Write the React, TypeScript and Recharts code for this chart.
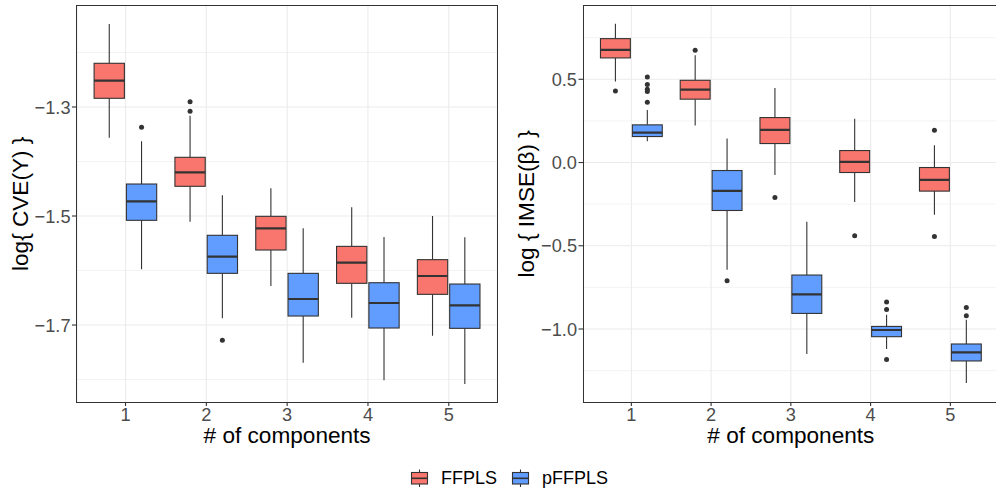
import React from "react";
import { ComposedChart, Bar, XAxis, YAxis, CartesianGrid } from "recharts";

const FONT = '"Liberation Sans", Arial, Helvetica, sans-serif';
const INK = "#333333";
const FF_COLOR = "#F8766D";
const PF_COLOR = "#619CFF";

const components = ["1", "2", "3", "4", "5"];

// each row: [lower whisker, Q1, median, Q3, upper whisker]
const cveFFPLS = [
  [-1.3563, -1.284, -1.2517, -1.2198, -1.1477],
  [-1.5104, -1.4455, -1.4198, -1.3923, -1.316],
  [-1.6284, -1.5624, -1.5226, -1.5006, -1.4492],
  [-1.6866, -1.6235, -1.5857, -1.5557, -1.484],
  [-1.7196, -1.6437, -1.6101, -1.5801, -1.5],
];
const cvePFFPLS = [
  [-1.5978, -1.5079, -1.473, -1.4413, -1.363],
  [-1.6877, -1.6052, -1.5747, -1.5354, -1.462],
  [-1.7691, -1.6835, -1.6523, -1.6052, -1.5226],
  [-1.8015, -1.7055, -1.6596, -1.6224, -1.5385],
  [-1.8083, -1.7061, -1.6639, -1.6248, -1.5391],
];
const cveFFPLSOut = [[], [-1.2903, -1.3079], [], [], []];
const cvePFFPLSOut = [[-1.3373], [-1.728], [], [], []];

const imseFFPLS = [
  [0.4862, 0.6284, 0.6765, 0.7443, 0.833],
  [0.2221, 0.3806, 0.4382, 0.494, 0.6447],
  [-0.0756, 0.114, 0.1963, 0.2701, 0.4478],
  [-0.2377, -0.06, 0.0042, 0.072, 0.2623],
  [-0.3139, -0.1717, -0.1038, -0.03, 0.1044],
];
const imsePFFPLS = [
  [0.1285, 0.1561, 0.1801, 0.2263, 0.3163],
  [-0.6441, -0.2881, -0.1699, -0.048, 0.1441],
  [-1.15, -0.9064, -0.7923, -0.6759, -0.356],
  [-1.12, -1.0462, -1.006, -0.9844, -0.915],
  [-1.3247, -1.192, -1.1405, -1.09, -0.944],
];
const imseFFPLSOut = [[0.4304], [0.6747], [-0.2101], [-0.44], [0.1945, -0.4442]];
const imsePFFPLSOut = [
  [0.5144, 0.4682, 0.4406, 0.4262, 0.3625],
  [-0.71],
  [],
  [-0.838, -0.8824, -1.1825],
  [-0.8703, -0.9202],
];

const cveTicks = [-1.7, -1.5, -1.3];
const cveMinor = [-1.8, -1.6, -1.4, -1.2];
const cveDomain = [-1.8418, -1.1134];

const imseTicks = [-1.0, -0.5, 0, 0.5];
const imseMinor = [-1.25, -0.75, -0.25, 0.25, 0.75];
const imseDomain = [-1.4403, 0.9445];

const legendItems = ["FFPLS", "pFFPLS"];

const fmt = (v: number) => (v < -1e-9 ? "\u2212" : "") + Math.abs(v).toFixed(1);

const buildRows = (ff: number[][], pf: number[][], ffOut: number[][], pfOut: number[][]) =>
  components.map((k, i) => ({
    k,
    ff: ff[i],
    pf: pf[i],
    ffOut: ffOut[i],
    pfOut: pfOut[i],
    ffRange: [ff[i][0], ff[i][4]],
    pfRange: [pf[i][0], pf[i][4]],
  }));

// box drawn inside the bar the library places for the whisker range
const makeBox = (key: "ff" | "pf", fill: string) => (props: any) => {
  const { x, y, width, height, payload } = props;
  const s: number[] = payload[key];
  const outs: number[] = payload[key + "Out"];
  const lo = s[0];
  const hi = s[4];
  const py = (v: number) => y + ((hi - v) * height) / (hi - lo);
  const cx = x + width / 2;
  return (
    <g>
      <line x1={cx} x2={cx} y1={py(hi)} y2={py(s[3])} stroke={INK} strokeWidth={1.1} />
      <line x1={cx} x2={cx} y1={py(s[1])} y2={py(lo)} stroke={INK} strokeWidth={1.1} />
      <rect x={x} y={py(s[3])} width={width} height={py(s[1]) - py(s[3])} fill={fill} stroke={INK} strokeWidth={1.1} />
      <line x1={x} x2={x + width} y1={py(s[2])} y2={py(s[2])} stroke={INK} strokeWidth={2.2} />
      {outs.map((o, i) => (
        <circle key={i} cx={cx} cy={py(o)} r={2.5} fill={INK} />
      ))}
    </g>
  );
};

const ffShape = makeBox("ff", FF_COLOR);
const pfShape = makeBox("pf", PF_COLOR);

const PLOT_TOP = 5.3;
const PLOT_BOTTOM = 402.3;
const CHART_H = 460;

interface PanelProps {
  rows: any[];
  ticks: number[];
  minor: number[];
  domain: number[];
  yTitle: string;
  left: number;
  yAxisW: number;
  rightMargin: number;
  pad: number;
  barSize: number;
}

const Panel: React.FC<PanelProps> = ({ rows, ticks, minor, domain, yTitle, left, yAxisW, rightMargin, pad, barSize }) => {
  const plotW = 500 - yAxisW - rightMargin;
  const xMid = yAxisW + plotW / 2;
  return (
    <div style={{ position: "absolute", left, top: 0 }}>
      <ComposedChart
        width={500}
        height={CHART_H}
        data={rows}
        barGap={2}
        margin={{ top: PLOT_TOP, right: rightMargin, bottom: 0, left: 0 }}
      >
        <CartesianGrid stroke="#EBEBEB" strokeWidth={0.6} vertical={false} horizontalValues={minor} />
        <CartesianGrid stroke="#EBEBEB" strokeWidth={1.1} horizontalValues={ticks} />
        <XAxis
          dataKey="k"
          type="category"
          interval={0}
          padding={{ left: pad, right: pad }}
          height={CHART_H - PLOT_BOTTOM}
          axisLine={false}
          tickLine={{ stroke: INK, strokeWidth: 1.1 }}
          tickSize={3.7}
          tickMargin={2}
          tick={(p: any) => (
            <text
              x={p.x}
              y={p.y + 13}
              textAnchor="middle"
              fontSize={18.2}
              fontFamily={FONT}
              fill="#4D4D4D"
            >
              {p.payload.value}
            </text>
          )}
          label={() => (
            <text
              x={xMid}
              y={PLOT_BOTTOM + 40.8}
              textAnchor="middle"
              fontSize={22.6}
              fontFamily={FONT}
              fill="#000"
            >
              # of components
            </text>
          )}
        />
        <YAxis
          type="number"
          domain={domain}
          allowDataOverflow
          ticks={ticks}
          interval={0}
          width={yAxisW}
          axisLine={false}
          tickLine={{ stroke: INK, strokeWidth: 1.1 }}
          tickSize={5}
          tickMargin={1.5}
          tick={(p: any) => (
            <text
              x={p.x}
              y={p.y}
              dy="0.36em"
              textAnchor="end"
              fontSize={18.2}
              fontFamily={FONT}
              fill="#4D4D4D"
            >
              {fmt(p.payload.value)}
            </text>
          )}
          label={() => (
            <text
              x={0}
              y={0}
              transform={`translate(${yAxisW - 49.5},${(PLOT_TOP + PLOT_BOTTOM) / 2}) rotate(-90)`}
              textAnchor="middle"
              fontSize={22.6}
              fontFamily={FONT}
              fill="#000"
            >
              {yTitle}
            </text>
          )}
        />
        <Bar dataKey="ffRange" barSize={barSize} shape={ffShape} isAnimationActive={false} />
        <Bar dataKey="pfRange" barSize={barSize} shape={pfShape} isAnimationActive={false} />
      </ComposedChart>
      <div
        style={{
          position: "absolute",
          left: yAxisW - 0.55,
          top: PLOT_TOP - 0.55,
          width: plotW + 1.1,
          height: PLOT_BOTTOM - PLOT_TOP + 1.1,
          boxSizing: "border-box",
          border: `1.1px solid ${INK}`,
          pointerEvents: "none",
        }}
      />
    </div>
  );
};

const LegendKey: React.FC<{ x: number; fill: string }> = ({ x, fill }) => (
  <g>
    <line x1={x + 8} x2={x + 8} y1={469.5} y2={487} stroke={INK} strokeWidth={1.1} />
    <rect x={x} y={472.5} width={16} height={11.5} fill={fill} stroke={INK} strokeWidth={1.1} />
    <line x1={x} x2={x + 16} y1={478.3} y2={478.3} stroke={INK} strokeWidth={1.6} />
  </g>
);

const App: React.FC = () => {
  const cveRows = buildRows(cveFFPLS, cvePFFPLS, cveFFPLSOut, cvePFFPLSOut);
  const imseRows = buildRows(imseFFPLS, imsePFFPLS, imseFFPLSOut, imsePFFPLSOut);
  const legendX = [411.5, 512.5];
  const legendColors = [FF_COLOR, PF_COLOR];
  return (
    <div
      style={{
        position: "absolute",
        left: 0,
        top: 0,
        width: 996,
        height: 493,
        overflow: "hidden",
        background: "#fff",
        fontFamily: FONT,
      }}
    >
      <Panel
        rows={cveRows}
        ticks={cveTicks}
        minor={cveMinor}
        domain={cveDomain}
        yTitle="log{ CVE(Y) }"
        left={0}
        yAxisW={77}
        rightMargin={2.7}
        pad={8.1}
        barSize={30.3}
      />
      <Panel
        rows={imseRows}
        ticks={imseTicks}
        minor={imseMinor}
        domain={imseDomain}
        yTitle="log { IMSE(β) }"
        left={500}
        yAxisW={83.5}
        rightMargin={1.8}
        pad={7.97}
        barSize={29.9}
      />
      <svg width={996} height={493} style={{ position: "absolute", left: 0, top: 0, pointerEvents: "none" }}>
        {legendItems.map((name, i) => (
          <g key={name}>
            <LegendKey x={legendX[i]} fill={legendColors[i]} />
            <text x={legendX[i] + 29.5} y={484.2} fontSize={18} fontFamily={FONT} fill="#000">
              {name}
            </text>
          </g>
        ))}
      </svg>
    </div>
  );
};

export default App;
